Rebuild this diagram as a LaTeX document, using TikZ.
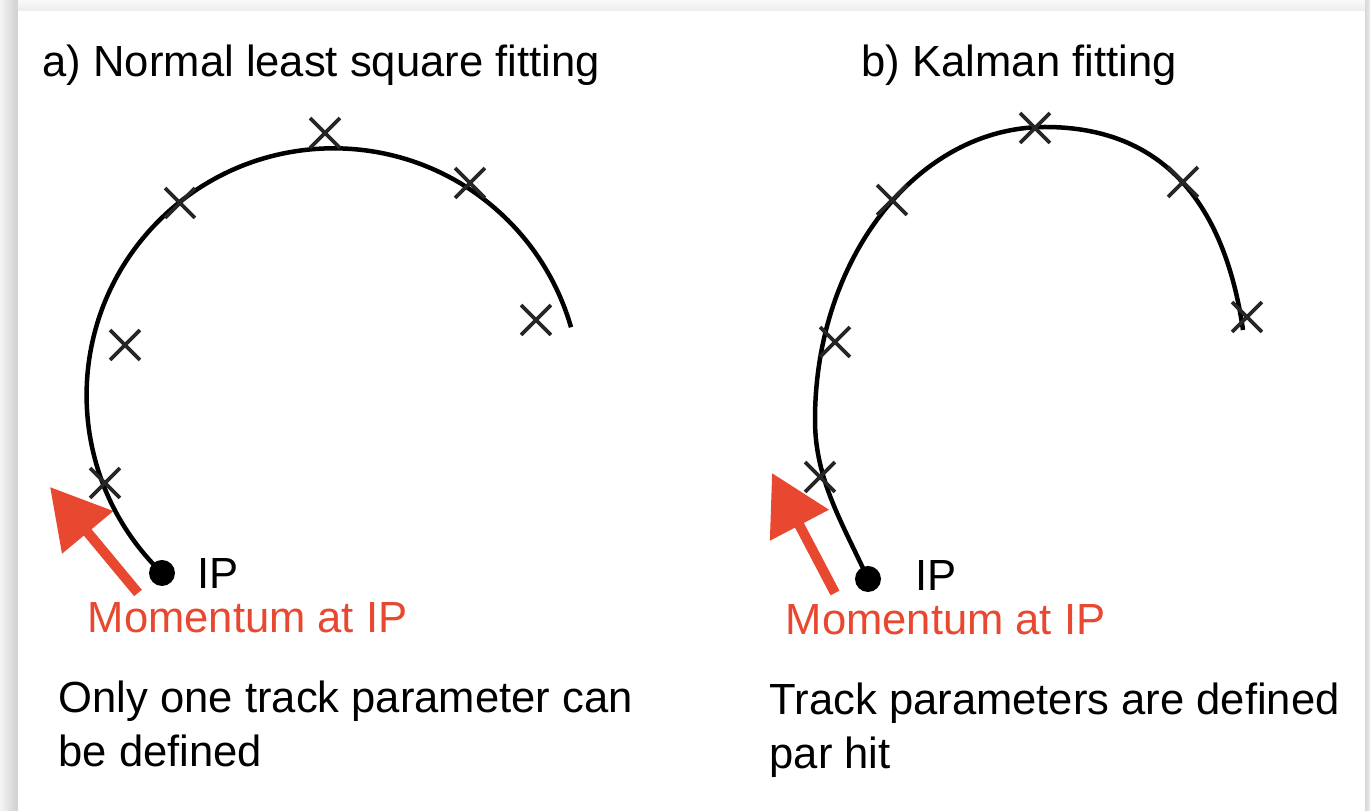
\documentclass[tikz,border=0pt]{standalone}
\usepackage{fontspec}
\setmainfont{Liberation Sans}
\usepackage{tikz}
\usetikzlibrary{arrows.meta,positioning,shapes.misc}
\definecolor{momred}{RGB}{233,72,48}

\begin{document}
\begin{tikzpicture}[
  txt/.style={font=\fontsize{12.4}{15.4}\selectfont, inner sep=0pt, anchor=base west, align=left},
  hit/.style={cross out, draw=black!85, line width=0.038cm, minimum size=0.26cm, inner sep=0pt},
  ipdot/.style={circle, fill=black, minimum size=0.26cm, inner sep=0pt},
  track/.style={line width=0.045cm},
  mom/.style={-{Triangle[length=0.59cm,width=0.64cm]}, draw=momred, line width=0.1cm}
]
  \useasboundingbox (0,0) rectangle (13.70,8.11);
  % shadow round the sheet
  \shade[left color=gray!8, right color=gray!38] (0,0) rectangle (0.18,8.11);
  \shade[left color=gray!32, right color=gray!14] (13.65,0) rectangle (13.70,8.11);
  \shade[top color=gray!5, bottom color=gray!14] (0.18,8.00) rectangle (13.65,8.11);
  \fill[white] (0.18,0) rectangle (13.65,8.00);

  % a) least square
  \node[txt] (ta) at (0.42,7.34) {a) Normal least square fitting};
  \node[ipdot] (ipa) at (1.62,2.38) {};
  \draw[track] (ipa.center) arc[start angle=226, end angle=16, radius=2.47];
  \node[hit] (ha1) at (1.05,3.28) {};
  \node[hit] (ha2) at (1.25,4.66) {};
  \node[hit] (ha3) at (1.80,6.08) {};
  \node[hit] (ha4) at (3.25,6.78) {};
  \node[hit] (ha5) at (4.70,6.28) {};
  \node[hit] (ha6) at (5.36,4.91) {};
  \node[txt] (lipa) at (1.97,2.22) {IP};
  \coordinate (pa0) at (1.38,2.18);
  \coordinate (pa1) at (0.50,3.24);
  \draw[mom] (pa0) -- (pa1);
  \node[txt, text=momred] (ma) at (0.87,1.78) {Momentum at IP};
  \node[txt] (ca) at (0.58,0.44) {Only one track parameter can\\be defined};

  % b) Kalman
  \node[txt] (tb) at (8.61,7.34) {b) Kalman fitting};
  \node[ipdot] (ipb) at (8.68,2.32) {};
  \coordinate (kl) at (8.15,3.91);
  \coordinate (kt) at (10.45,6.84);
  \coordinate (ke) at (12.43,4.81);
  \draw[track] (ipb.center) .. controls (8.43,2.87) and (8.15,3.31) .. (kl)
    .. controls (8.15,5.53) and (9.18,6.84) .. (kt)
    .. controls (11.65,6.84) and (12.25,6.05) .. (ke);
  \node[hit] (hb1) at (8.20,3.34) {};
  \node[hit] (hb2) at (8.35,4.69) {};
  \node[hit] (hb3) at (8.92,6.11) {};
  \node[hit] (hb4) at (10.35,6.83) {};
  \node[hit] (hb5) at (11.83,6.29) {};
  \node[hit] (hb6) at (12.47,4.94) {};
  \node[txt] (lipb) at (9.15,2.20) {IP};
  \coordinate (pb0) at (8.35,2.18);
  \coordinate (pb1) at (7.72,3.38);
  \draw[mom] (pb0) -- (pb1);
  \node[txt, text=momred] (mb) at (7.85,1.76) {Momentum at IP};
  \node[txt] (cb) at (7.69,0.42) {Track parameters are defined\\par hit};
\end{tikzpicture}
\end{document}
